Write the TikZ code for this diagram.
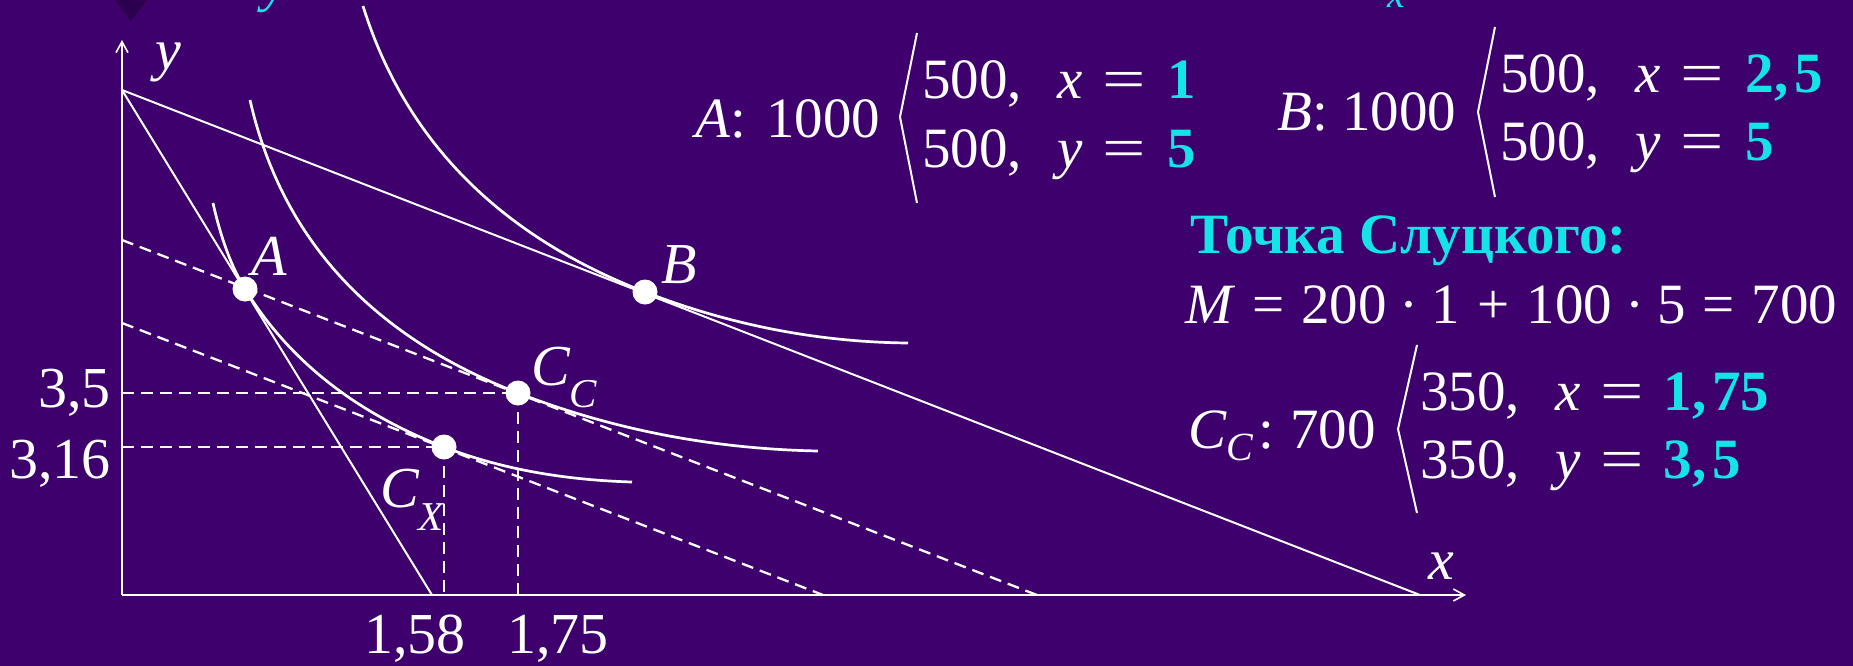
\documentclass[tikz,border=0pt]{standalone}
\usepackage{fontspec}
\setmainfont{Liberation Serif}
\usetikzlibrary{arrows.meta}
\definecolor{bgtop}{RGB}{62,0,108}
\definecolor{bgmid}{RGB}{78,0,140}
\definecolor{bgbot}{RGB}{62,0,108}
\definecolor{hl}{RGB}{20,228,232}
\definecolor{tri}{RGB}{44,0,78}
\begin{document}
\begin{tikzpicture}[x=1pt,y=-1pt,
  curve/.style={white,line width=2.7pt},
  bline/.style={white,line width=2pt},
  dline/.style={white,line width=2.3pt,dash pattern=on 12pt off 7pt},
  axisline/.style={white,line width=2.2pt,-{Straight Barb[length=11pt,width=12pt,line width=1.6pt]}},
  dot/.style={circle,fill=white,inner sep=0pt,minimum size=25pt},
  lbl/.style={text=white,inner sep=0pt,anchor=base west,font=\fontsize{58}{58}\selectfont},
  lble/.style={lbl,anchor=base east},
  eqtext/.style={text=white,inner sep=0pt,anchor=base west,font=\fontsize{57}{57}\selectfont},
  brk/.style={white,line width=2pt,line join=miter},
  frag/.style={text=hl,inner sep=0pt,anchor=base west}
]
\useasboundingbox (0,0) rectangle (1853,665);
\clip (0,0) rectangle (1853,665);
\shade[top color=bgtop,middle color=bgmid,bottom color=bgbot] (0,0) rectangle (1853,665);

% cut-off fragments at the top edge
\fill[tri] (115,0) -- (147,0) -- (131,21) -- cycle;
\node[frag,font=\fontsize{57}{57}\selectfont\itshape] (fy) at (262,0) {y};
\node[frag,font=\fontsize{40}{40}\selectfont\itshape] (fx) at (1387,7) {x};

% coordinates
\coordinate (O) at (122,595);
\coordinate (Ytop) at (122,40);
\coordinate (Xend) at (1466,595);
\coordinate (P0) at (122,90);
\coordinate (S1) at (432,595);
\coordinate (N1) at (1420,595);
\coordinate (D1a) at (122,240);
\coordinate (D1b) at (1037,595);
\coordinate (D2a) at (122,323);
\coordinate (D2b) at (823,595);
\coordinate (H35) at (122,393);
\coordinate (H316) at (122,447);
\coordinate (V175) at (518,595);
\coordinate (V158) at (444,595);

% points
\coordinate (pA) at (245,289);
\coordinate (pB) at (645,292);
\coordinate (pCC) at (518,393);
\coordinate (pCX) at (444,447);

% axes
\draw[axisline] (O) -- (Ytop);
\draw[axisline] (O) -- (Xend);

% budget lines
\draw[bline] (P0) -- (S1);
\draw[bline] (P0) -- (N1);

% dashed lines
\draw[dline] (D1a) -- (D1b);
\draw[dline] (D2a) -- (D2b);
\draw[dline] (H35) -- (pCC);
\draw[dline] (H316) -- (pCX);
\draw[dline] (pCC) -- (V175);
\draw[dline] (pCX) -- (V158);

% indifference curves
\draw[curve] (213,203) .. controls (220.9,238.3) and (231.5,267) .. (pA)
  .. controls (288.4,359.7) and (354.7,412.3) .. (pCX)
  .. controls (498.7,468.2) and (561.3,479.9) .. (632,482);
\draw[curve] (250,100) .. controls (281.4,238) and (370.7,335.7) .. (pCC)
  .. controls (612.2,429.5) and (712.2,448.9) .. (818,451);
\draw[curve] (363,6) .. controls (404.9,140) and (498.9,235.3) .. (pB)
  .. controls (730.3,325.1) and (818,342.1) .. (908,343);

% dots
\node[dot] (A) at (pA) {};
\node[dot] (B) at (pB) {};
\node[dot] (CC) at (pCC) {};
\node[dot] (CX) at (pCX) {};

% graph labels
\node[lbl,font=\fontsize{58}{58}\selectfont\itshape] (ly) at (155,69) {y};
\node[lbl,font=\fontsize{58}{58}\selectfont\itshape] (lx) at (1428,579) {x};
\node[lbl,font=\fontsize{58}{58}\selectfont\itshape] (lA) at (251,275) {A};
\node[lbl,font=\fontsize{58}{58}\selectfont\itshape] (lB) at (661,283) {B};
\node[lbl,font=\fontsize{58}{58}\selectfont\itshape] (lCC) at (531,385) {C\raisebox{-22pt}{\fontsize{41}{41}\selectfont C}};
\node[lbl,font=\fontsize{58}{58}\selectfont\itshape] (lCX) at (380,507) {C\raisebox{-23pt}{\fontsize{41}{41}\selectfont X}};
\node[lble] (l35) at (111,407) {3,5};
\node[lble] (l316) at (111,478) {3,16};
\node[lbl] (l158) at (364,653) {1,58};
\node[lbl] (l175) at (507,653) {1,75};

% block A
\node[eqtext] (tA) at (695,137) {\textit{A}:\hspace{20pt}1000};
\draw[brk] (917,33) -- (900,117) -- (917,203);
\node[eqtext] (tA1) at (922,98) {500,\hspace{36pt}\textit{x}\hspace{19pt}\scalebox{1.35}[1]{=}\hspace{22pt}{\color{hl}\bfseries 1}};
\node[eqtext] (tA2) at (922,167) {500,\hspace{36pt}\textit{y}\hspace{19pt}\scalebox{1.35}[1]{=}\hspace{22pt}{\color{hl}\bfseries 5}};

% block B
\node[eqtext] (tB) at (1277,130) {\textit{B}: 1000};
\draw[brk] (1495,27) -- (1478,112) -- (1495,197);
\node[eqtext] (tB1) at (1500,92) {500,\hspace{36pt}\textit{x}\hspace{19pt}\scalebox{1.35}[1]{=}\hspace{22pt}{\color{hl}\bfseries 2,\kern6pt 5}};
\node[eqtext] (tB2) at (1500,160) {500,\hspace{36pt}\textit{y}\hspace{19pt}\scalebox{1.35}[1]{=}\hspace{22pt}{\color{hl}\bfseries 5}};

% Slutsky
\node[eqtext,text=hl,font=\fontsize{57}{57}\selectfont\bfseries] (tS) at (1190,253) {Точка Слуцкого:};
\node[eqtext] (tM) at (1185,323) {\textit{M}\hspace{17pt}=\hspace{17pt}200\hspace{13pt}·\hspace{13pt}1\hspace{17pt}+\hspace{17pt}100\hspace{13pt}·\hspace{13pt}5\hspace{17pt}=\hspace{17pt}700};

% block C_C
\node[eqtext] (tC) at (1188,448) {\textit{C}\raisebox{-12pt}{\fontsize{40}{40}\selectfont\itshape C}\hspace{5pt}:\hspace{16pt}700};
\draw[brk] (1417,345) -- (1398,429) -- (1417,513);
\node[eqtext] (tC1) at (1420,410) {350,\hspace{36pt}\textit{x}\hspace{19pt}\scalebox{1.35}[1]{=}\hspace{20pt}{\color{hl}\bfseries 1,\kern6pt 75}};
\node[eqtext] (tC2) at (1420,478) {350,\hspace{36pt}\textit{y}\hspace{19pt}\scalebox{1.35}[1]{=}\hspace{20pt}{\color{hl}\bfseries 3,\kern6pt 5}};
\end{tikzpicture}
\end{document}
